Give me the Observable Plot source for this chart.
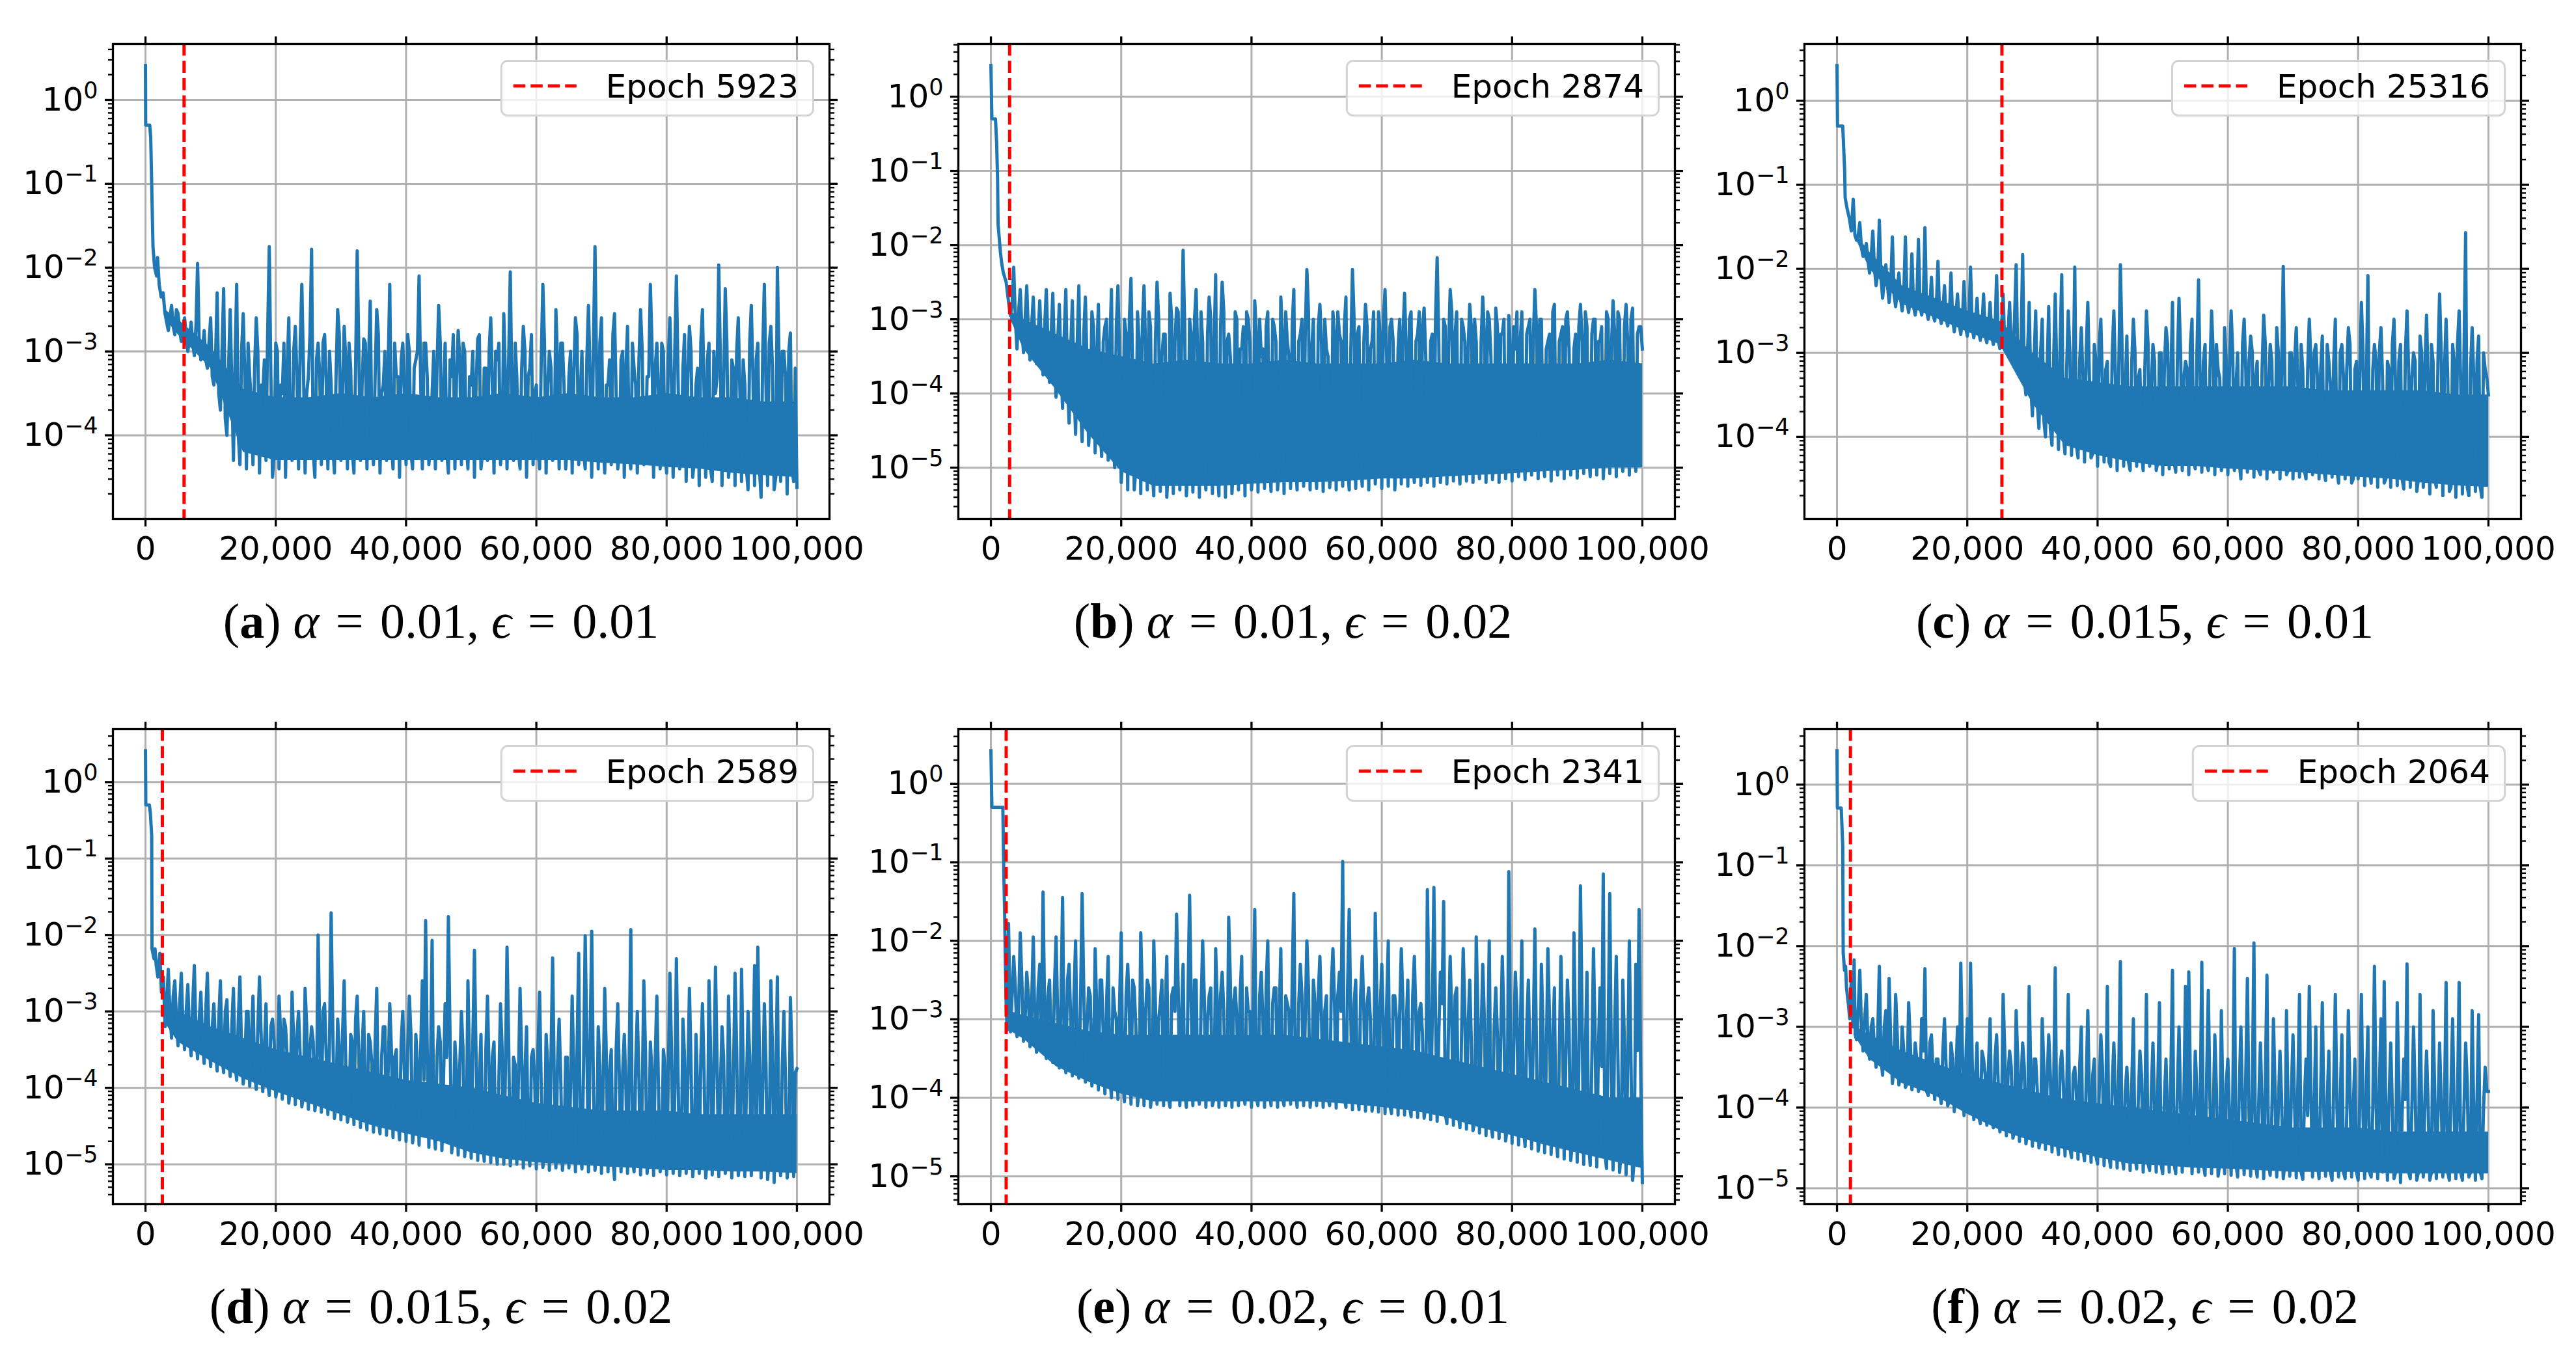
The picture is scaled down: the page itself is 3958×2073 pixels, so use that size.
<!DOCTYPE html>
<html><head><meta charset="utf-8">
<script src="https://cdn.jsdelivr.net/npm/d3@7"></script>
<script src="https://cdn.jsdelivr.net/npm/@observablehq/plot@0.6"></script>
<style>
html,body{margin:0;padding:0;background:#fff;}
#page{position:relative;width:3958px;height:2073px;overflow:hidden;background:#fff;}
#page > div.panel{position:absolute;}
</style></head><body><div id="page"></div>
<script>
// ---------------- data (loss values stored as log10) ----------------
const xTicks = [0, 20000, 40000, 60000, 80000, 100000];
const letters = ["a", "b", "c", "d", "e", "f"];
const alphas = ["0.01", "0.01", "0.015", "0.015", "0.02", "0.02"];
const epsilons = ["0.01", "0.02", "0.01", "0.02", "0.01", "0.02"];
const markerEpochs = [5923, 2874, 25316, 2589, 2341, 2064];
// body readings: every 500 epochs from 3000; mid readings: every 500 epochs from 3250
const bodyStart = 3000, midStart = 3250, step = 500;
// epochs at which the solid core of the noisy band is read (bottom / top)
const coreEpochs = [3000,5000,10000,15000,20000,25000,30000,35000,40000,45000,50000,55000,60000,65000,70000,75000,80000,85000,90000,95000,100000];

const headEpochsA = [0,30,650,800,950,1150,1400,1700,1850,2100,2400,2700];
const headLog10A = [0.41,-0.3,-0.3,-0.45,-1.0,-1.75,-2.0,-2.1,-1.88,-2.2,-2.35,-2.3];
const bodyLog10A = [
-2.55,-2.75,-2.45,-2.8,-2.55,-2.88,-2.6,-3.0,-2.65,-3.05,
-1.95,-3.1,-2.75,-3.2,-2.6,-3.4,-2.3,-3.7,-2.25,-4.0,
-2.5,-4.3,-2.2,-4.35,-2.55,-4.4,-3.3,-4.35,-2.6,-4.45,
-3.5,-4.3,-1.75,-4.5,-2.9,-4.4,-3.5,-4.5,-2.6,-4.3,
-2.7,-4.4,-2.2,-4.45,-3.3,-1.78,-4.5,-2.9,-4.35,-2.8,
-4.4,-3.4,-4.45,-2.5,-4.3,-2.7,-4.4,-3.2,-4.45,-1.8,
-4.3,-2.85,-4.4,-2.4,-4.35,-2.5,-4.45,-3.4,-4.3,-2.2,
-4.4,-3.3,-4.5,-2.9,-4.35,-3.0,-4.4,-3.1,-2.1,-4.4,
-2.9,-4.35,-3.5,-4.4,-2.45,-4.3,-2.9,-4.45,-3.3,-4.4,
-2.75,-4.35,-3.0,-4.4,-3.4,-4.5,-2.85,-4.4,-3.2,-4.3,
-2.6,-4.45,-3.1,-4.35,-2.55,-4.4,-2.05,-4.3,-3.3,-4.4,
-2.7,-4.5,-3.2,-4.35,-3.4,-4.4,-2.2,-4.45,-3.0,-4.3,
-2.5,-4.4,-2.9,-4.4,-3.3,-4.45,-2.6,-4.35,-3.0,-4.4,
-2.45,-4.5,-1.75,-4.4,-2.6,-4.45,-3.4,-4.35,-2.55,-4.4,
-3.1,-4.5,-2.7,-4.4,-3.2,-4.45,-2.5,-4.35,-3.3,-2.2,
-4.5,-2.9,-4.4,-3.0,-4.45,-2.6,-4.5,-2.1,-4.4,-3.2,
-4.55,-2.7,-4.5,-3.4,-4.6,-2.5,-4.5,-2.9,-4.55,-3.5,
-1.97,-4.6,-2.25,-4.5,-3.1,-4.6,-2.6,-4.55,-3.4,-4.65,
-2.45,-4.6,-2.9,-4.74,-2.2,-4.6,-2.7,-4.65,-2.0,-4.55,
-3.0,-4.7,-2.78,-4.55,-4.62];
const midLog10A = [
-2.65,-2.6,-2.7,-2.5,-2.75,-2.7,-2.8,-2.85,-2.9,-2.7,
-2.9,-3.0,-3.1,-2.9,-3.3,-3.1,-3.5,-3.0,-3.8,-3.2,
-3.4,-3.1,-4.0,-3.0,-3.3,-2.9,-3.6,-3.2,-3.0,-3.4,
-3.1,-2.8,-3.3,-4.2,-3.0,-3.4,-2.9,-3.2,-4.1,-3.0,
-3.3,-2.9,-3.2,-3.5,-2.8,-4.2,-3.1,-3.3,-2.9,-3.4,
-3.0,-4.1,-3.3,-2.8,-3.5,-3.1,-2.9,-4.2,-3.2,-3.0,
-3.4,-2.9,-3.1,-4.0,-3.3,-2.8,-3.5,-3.0,-3.2,-4.1,
-2.9,-3.3,-3.1,-3.5,-2.8,-4.2,-3.2,-3.0,-3.4,-2.9,
-3.3,-4.1,-3.0,-3.2,-2.9,-3.5,-4.2,-3.1,-2.8,-3.3,
-3.1,-2.9,-4.1,-3.3,-3.0,-3.4,-2.8,-4.2,-3.2,-3.0,
-3.4,-3.0,-2.9,-4.1,-3.3,-3.1,-3.5,-2.9,-4.2,-3.2,
-3.0,-3.3,-2.8,-3.5,-4.1,-3.1,-2.9,-3.4,-3.2,-4.2,
-3.1,-2.9,-3.4,-4.1,-3.0,-3.3,-2.8,-3.5,-4.2,-3.1,
-3.3,-3.0,-3.2,-2.9,-4.1,-3.4,-3.1,-2.8,-3.5,-4.2,
-3.0,-3.2,-4.2,-2.9,-3.4,-3.1,-3.0,-4.3,-3.3,-2.9,
-3.2,-3.5,-2.9,-4.2,-3.1,-3.4,-3.0,-3.3,-4.3,-2.8,
-3.3,-3.0,-4.3,-3.2,-2.9,-3.5,-3.1,-4.4,-3.0,-3.3,
-3.1,-3.4,-2.9,-4.3,-3.2,-3.0,-3.5,-3.1,-4.4,-2.9,
-3.3,-3.1,-4.4,-3.0,-3.4,-2.9,-3.2,-4.5,-3.1,-3.0,
-3.3,-3.0,-4.4,-3.2];
const coreBottomA = [-2.6,-2.8,-3.2,-4.2,-4.3,-4.3,-4.3,-4.3,-4.3,-4.3,-4.3,-4.3,-4.3,-4.3,-4.33,-4.35,-4.38,-4.4,-4.45,-4.48,-4.5];
const coreTopA = [-2.5,-2.62,-2.95,-3.45,-3.55,-3.55,-3.5,-3.55,-3.5,-3.55,-3.55,-3.5,-3.55,-3.5,-3.55,-3.55,-3.5,-3.55,-3.55,-3.6,-3.6];

const headEpochsB = [0,150,700,880,1020,1100,1460,1680,1900,2340,2700];
const headLog10B = [0.42,-0.3,-0.3,-0.63,-1.1,-1.72,-2.1,-2.26,-2.37,-2.5,-2.76];
const bodyLog10B = [
-2.95,-2.3,-3.4,-2.6,-3.45,-2.55,-3.55,-2.7,-3.6,-2.75,
-3.75,-2.6,-3.85,-2.65,-4.05,-2.8,-4.2,-2.6,-4.4,-2.75,
-4.55,-2.55,-4.65,-2.7,-4.7,-2.9,-4.8,-2.8,-4.85,-3.1,
-4.9,-2.6,-5.0,-2.55,-5.2,-3.0,-5.3,-2.45,-5.3,-2.9,
-5.35,-2.55,-5.3,-3.1,-5.38,-2.5,-5.32,-3.2,-5.4,-2.65,
-5.35,-2.85,-5.3,-2.07,-5.38,-3.0,-5.33,-2.6,-5.4,-3.3,
-5.3,-2.7,-5.35,-2.4,-5.38,-2.5,-5.4,-3.2,-5.35,-2.9,
-5.3,-3.4,-5.38,-3.0,-5.3,-2.75,-5.33,-3.5,-5.28,-2.9,
-5.32,-3.1,-5.3,-2.7,-5.35,-3.3,-5.28,-2.6,-5.3,-3.2,
-5.25,-2.33,-5.3,-3.0,-5.28,-2.8,-5.32,-3.4,-5.27,-2.9,
-5.3,-3.2,-5.25,-2.7,-5.3,-2.33,-5.28,-3.1,-5.25,-2.8,
-5.3,-3.3,-5.22,-2.9,-5.28,-2.6,-5.25,-3.0,-5.3,-3.4,
-5.22,-2.65,-5.25,-2.9,-5.2,-3.2,-5.24,-2.85,-5.2,-3.3,
-5.25,-2.17,-5.2,-3.0,-5.22,-2.6,-5.18,-2.9,-5.22,-3.1,
-5.18,-2.8,-5.2,-3.3,-5.15,-2.7,-5.2,-3.0,-5.16,-2.85,
-5.2,-3.2,-5.15,-2.95,-5.18,-3.4,-5.12,-2.9,-5.16,-3.1,
-5.1,-2.6,-5.15,-3.0,-5.12,-3.3,-5.18,-2.8,-5.1,-3.2,
-5.15,-2.9,-5.1,-3.4,-5.14,-2.8,-5.08,-3.1,-5.12,-3.0,
-5.1,-3.3,-5.15,-2.9,-5.08,-2.75,-5.12,-3.0,-5.05,-2.8,
-5.1,-2.85,-5.05,-3.1,-3.4];
const midLog10B = [
-2.8,-3.0,-2.9,-3.1,-3.0,-3.2,-3.1,-3.3,-3.2,-3.4,
-3.1,-3.3,-3.2,-3.5,-3.3,-3.6,-3.2,-3.8,-3.4,-3.9,
-3.3,-4.1,-3.2,-3.6,-4.3,-3.1,-3.5,-4.4,-3.3,-3.0,
-3.4,-4.6,-3.1,-3.5,-4.8,-3.2,-3.0,-3.6,-5.0,-3.3,
-3.1,-3.4,-2.9,-5.0,-3.3,-3.0,-3.5,-3.2,-4.9,-3.0,
-3.3,-2.9,-3.4,-3.1,-5.0,-3.2,-3.0,-3.5,-2.9,-4.9,
-3.2,-3.0,-3.4,-5.0,-3.1,-2.9,-3.3,-3.5,-4.9,-3.0,
-3.4,-3.1,-2.9,-3.3,-5.0,-3.2,-3.0,-3.4,-3.1,-4.9,
-3.0,-3.3,-5.0,-3.2,-2.9,-3.5,-3.1,-4.9,-3.3,-3.0,
-3.2,-2.9,-3.4,-4.9,-3.1,-3.3,-3.0,-3.5,-4.9,-3.2,
-2.9,-3.3,-3.1,-5.0,-3.4,-3.0,-3.2,-4.9,-3.3,-3.1,
-3.4,-2.9,-4.9,-3.2,-3.0,-3.5,-3.1,-3.3,-4.8,-3.0,
-3.2,-3.4,-3.0,-4.9,-3.3,-2.9,-3.1,-3.5,-4.8,-3.2,
-3.0,-3.3,-4.8,-3.1,-3.4,-2.9,-3.2,-4.9,-3.0,-3.3,
-3.4,-3.1,-3.0,-4.8,-3.3,-3.2,-2.9,-3.5,-4.8,-3.1,
-3.2,-3.0,-4.8,-3.4,-3.1,-2.9,-3.3,-4.7,-3.2,-3.0,
-3.3,-3.1,-3.0,-4.8,-3.4,-3.2,-2.9,-4.7,-3.3,-3.1,
-3.0,-3.4,-4.7,-3.2,-3.1,-3.3,-2.9,-4.8,-3.2,-3.0,
-3.3,-3.1,-4.7,-3.0,-3.4,-3.2,-2.9,-4.7,-3.1,-3.3,
-3.0,-4.7,-3.2,-3.1];
const coreBottomB = [-3.0,-3.4,-3.95,-4.55,-5.05,-5.25,-5.25,-5.25,-5.22,-5.2,-5.2,-5.18,-5.15,-5.15,-5.12,-5.1,-5.08,-5.05,-5.03,-5.0,-5.0];
const coreTopB = [-2.9,-3.0,-3.2,-3.4,-3.5,-3.6,-3.55,-3.6,-3.6,-3.55,-3.6,-3.6,-3.6,-3.55,-3.6,-3.6,-3.6,-3.6,-3.6,-3.55,-3.6];

const headEpochsC = [0,80,880,1170,1250,1540,1900,2200,2490,2750];
const headLog10C = [0.42,-0.3,-0.3,-0.82,-1.15,-1.28,-1.4,-1.55,-1.17,-1.6];
const bodyLog10C = [
-1.66,-1.45,-1.85,-1.7,-2.05,-1.55,-2.2,-1.42,-2.35,-1.95,
-2.4,-1.62,-2.45,-2.05,-2.5,-1.62,-2.52,-1.82,-2.55,-1.65,
-2.55,-1.51,-2.6,-2.1,-2.62,-1.91,-2.65,-2.2,-2.68,-2.05,
-2.75,-2.3,-2.78,-2.15,-2.8,-1.98,-2.82,-2.35,-2.85,-2.3,
-2.88,-2.4,-2.9,-2.08,-2.95,-2.3,-3.0,-2.4,-3.1,-1.95,
-3.2,-1.83,-3.5,-2.4,-3.75,-2.5,-3.9,-2.6,-4.0,-2.45,
-4.1,-2.3,-4.15,-2.07,-4.2,-2.5,-4.22,-1.98,-4.25,-2.7,
-4.3,-2.4,-4.25,-2.9,-4.35,-2.6,-4.3,-3.1,-4.35,-2.5,
-4.4,-1.95,-4.35,-2.8,-4.4,-2.6,-4.35,-3.2,-4.4,-2.5,
-4.35,-2.9,-4.4,-3.0,-4.45,-2.7,-4.38,-2.4,-4.42,-2.35,
-4.4,-3.1,-4.45,-2.6,-4.38,-2.13,-4.42,-2.9,-4.4,-2.5,
-4.45,-3.2,-4.4,-2.7,-4.45,-2.5,-4.4,-3.0,-4.5,-2.6,
-4.42,-2.8,-4.48,-3.1,-4.45,-2.55,-4.5,-2.9,-4.42,-2.7,
-4.5,-1.97,-4.45,-3.0,-4.5,-2.7,-4.48,-3.2,-4.5,-2.6,
-4.45,-2.9,-4.5,-2.8,-4.52,-3.1,-4.48,-2.6,-4.55,-2.9,
-4.5,-2.7,-4.55,-3.2,-4.5,-2.4,-4.58,-2.08,-4.55,-2.9,
-4.6,-2.7,-4.55,-3.1,-4.6,-2.6,-4.58,-2.9,-4.62,-2.5,
-4.6,-3.0,-4.65,-2.8,-4.6,-2.55,-4.68,-3.1,-4.6,-2.3,
-4.7,-2.6,-4.65,-2.9,-4.72,-2.5,-4.68,-1.57,-4.7,-2.7,
-4.65,-2.8,-4.72,-3.2,-3.5];
const midLog10C = [
-1.6,-1.75,-1.8,-1.9,-1.85,-2.0,-2.05,-2.1,-2.15,-2.2,
-2.2,-2.3,-2.25,-2.35,-2.3,-2.4,-2.35,-2.45,-2.4,-2.45,
-2.4,-2.5,-2.45,-2.55,-2.45,-2.55,-2.5,-2.6,-2.55,-2.6,
-2.55,-2.65,-2.6,-2.7,-2.6,-2.7,-2.65,-2.75,-2.7,-2.8,
-2.7,-2.8,-2.75,-2.85,-2.7,-2.9,-2.8,-2.95,-2.6,-3.1,
-2.9,-3.3,-3.0,-3.4,-3.1,-3.6,-3.0,-3.8,-3.2,-3.9,
-3.1,-3.3,-2.9,-4.0,-3.2,-3.0,-3.4,-4.1,-3.1,-3.3,
-3.0,-3.3,-4.2,-3.1,-2.9,-3.4,-3.2,-4.3,-3.0,-3.3,
-3.2,-2.9,-3.4,-4.3,-3.1,-3.0,-3.3,-4.2,-3.2,-2.9,
-3.4,-3.1,-4.3,-3.0,-3.2,-2.9,-3.3,-4.3,-3.1,-3.0,
-3.3,-3.2,-2.9,-4.3,-3.0,-3.4,-3.1,-4.3,-3.2,-3.0,
-2.9,-3.3,-4.3,-3.1,-3.2,-3.0,-3.4,-4.3,-2.9,-3.2,
-3.1,-3.0,-3.3,-4.4,-3.2,-2.9,-3.4,-3.1,-4.3,-3.0,
-3.2,-3.3,-4.4,-3.0,-3.1,-3.4,-2.9,-4.4,-3.2,-3.1,
-3.0,-3.3,-3.2,-4.4,-2.9,-3.4,-3.1,-4.4,-3.0,-3.3,
-3.2,-2.9,-4.5,-3.1,-3.3,-3.0,-3.4,-4.4,-3.2,-3.1,
-3.0,-3.3,-4.5,-3.2,-2.9,-3.4,-3.1,-4.5,-3.0,-3.2,
-3.3,-3.1,-4.5,-3.0,-3.2,-3.4,-2.9,-4.5,-3.1,-3.0,
-3.2,-3.3,-4.6,-3.1,-2.9,-3.4,-3.0,-4.6,-3.2,-3.3,
-3.1,-4.6,-3.0,-3.3];
const coreBottomC = [-1.66,-2.0,-2.42,-2.58,-2.75,-2.9,-3.6,-4.1,-4.22,-4.3,-4.35,-4.35,-4.38,-4.4,-4.42,-4.45,-4.48,-4.5,-4.55,-4.58,-4.6];
const coreTopC = [-1.6,-1.8,-2.2,-2.35,-2.5,-2.62,-3.0,-3.3,-3.35,-3.4,-3.4,-3.4,-3.4,-3.4,-3.4,-3.45,-3.45,-3.45,-3.45,-3.5,-3.5];

const headEpochsD = [0,50,600,750,950,1000,1300,1460,1650,1900,2200,2450,2750];
const headLog10D = [0.41,-0.3,-0.3,-0.41,-0.7,-2.18,-2.31,-2.18,-2.4,-2.55,-2.24,-2.75,-2.55];
const bodyLog10D = [
-3.2,-2.45,-3.35,-2.6,-3.45,-2.5,-3.5,-2.65,-3.58,-2.4,
-3.62,-2.75,-3.68,-2.5,-3.72,-2.9,-3.78,-2.6,-3.8,-2.85,
-3.85,-2.7,-3.9,-2.55,-3.95,-3.0,-3.98,-2.8,-4.02,-2.55,
-4.05,-2.9,-4.1,-3.1,-4.12,-2.8,-4.15,-3.2,-4.2,-2.75,
-4.22,-3.0,-4.25,-2.7,-4.28,-3.2,-4.3,-2.0,-4.32,-2.9,
-4.35,-1.71,-4.4,-3.1,-4.42,-2.6,-4.45,-3.3,-4.48,-2.8,
-4.52,-3.0,-4.55,-3.4,-4.58,-2.7,-4.6,-3.2,-4.62,-2.9,
-4.65,-3.5,-4.68,-3.0,-4.7,-2.8,-4.72,-3.3,-4.75,-2.6,
-1.81,-4.78,-2.07,-4.8,-3.2,-4.82,-2.9,-1.76,-4.85,-3.4,
-4.88,-3.0,-4.9,-2.6,-4.92,-2.2,-4.95,-3.3,-4.96,-2.8,
-4.98,-3.4,-5.0,-2.9,-5.0,-2.16,-5.02,-3.6,-5.0,-2.7,
-5.05,-3.2,-5.02,-3.5,-5.06,-2.75,-5.04,-3.3,-5.08,-2.3,
-5.05,-3.1,-5.08,-3.6,-5.05,-2.8,-5.1,-2.24,-5.06,-2.01,
-5.1,-1.95,-5.08,-3.2,-5.12,-2.7,-5.1,-3.5,-5.2,-2.9,
-5.1,-3.3,-5.12,-1.93,-5.1,-3.0,-5.14,-2.6,-5.12,-3.4,
-5.15,-2.8,-5.1,-3.5,-5.14,-2.5,-5.12,-2.31,-5.15,-3.1,
-5.12,-2.7,-5.16,-3.3,-5.12,-2.9,-5.18,-2.6,-5.14,-2.42,
-5.16,-3.2,-5.12,-2.8,-5.18,-2.5,-5.15,-2.45,-5.16,-3.0,
-5.15,-2.4,-2.16,-5.18,-2.9,-5.2,-2.6,-5.24,-2.55,-5.15,
-3.0,-5.18,-2.82,-5.16,-3.75];
const midLog10D = [
-2.9,-3.0,-2.8,-3.1,-2.9,-3.2,-3.0,-3.3,-2.9,-3.3,
-3.1,-3.4,-3.0,-3.4,-3.2,-3.5,-3.1,-3.6,-3.0,-3.6,
-3.2,-3.7,-3.1,-3.5,-3.7,-3.0,-3.4,-3.8,-3.2,-3.3,
-3.5,-3.9,-3.2,-3.4,-4.0,-3.3,-3.1,-3.6,-4.0,-3.4,
-3.3,-3.6,-4.1,-3.2,-3.5,-3.4,-4.1,-3.3,-3.0,-3.6,
-3.4,-3.2,-4.2,-3.5,-3.3,-3.7,-4.3,-3.4,-3.1,-3.6,
-3.5,-4.3,-3.3,-3.7,-3.4,-4.4,-3.6,-3.2,-3.8,-3.5,
-3.6,-4.4,-3.4,-3.8,-3.5,-3.3,-4.5,-3.7,-3.5,-3.9,
-3.5,-3.7,-4.5,-3.6,-3.4,-3.9,-3.6,-3.3,-4.6,-3.8,
-3.7,-3.5,-4.6,-3.8,-3.4,-3.6,-3.9,-4.7,-3.5,-3.8,
-3.6,-4.7,-3.9,-3.5,-3.8,-3.4,-4.7,-3.7,-3.9,-3.6,
-3.8,-4.8,-3.6,-3.9,-3.5,-4.0,-4.8,-3.7,-3.6,-3.9,
-3.7,-3.9,-4.8,-3.6,-4.0,-3.8,-3.5,-4.8,-3.7,-3.4,
-3.4,-3.9,-4.8,-3.7,-4.0,-3.6,-3.8,-4.9,-3.5,-3.9,
-3.8,-4.0,-3.6,-4.9,-3.7,-3.9,-4.1,-3.5,-4.9,-3.8,
-3.6,-4.0,-4.9,-3.7,-3.9,-3.5,-4.1,-3.8,-4.9,-3.6,
-3.9,-3.7,-4.9,-4.0,-3.6,-3.8,-4.9,-3.5,-3.9,-3.7,
-4.0,-3.6,-4.9,-3.8,-3.9,-3.5,-4.9,-3.7,-4.0,-3.6,
-3.8,-4.9,-3.6,-4.0,-3.7,-4.9,-3.5,-3.9,-4.9,-3.7,
-3.9,-4.9,-3.6,-3.8];
const coreBottomD = [-3.15,-3.4,-3.65,-3.88,-4.05,-4.2,-4.35,-4.5,-4.6,-4.7,-4.85,-4.93,-4.98,-5.0,-5.03,-5.05,-5.08,-5.08,-5.1,-5.1,-5.12];
const coreTopD = [-2.9,-3.0,-3.2,-3.35,-3.5,-3.6,-3.7,-3.8,-3.9,-3.95,-4.0,-4.1,-4.2,-4.25,-4.3,-4.3,-4.3,-4.35,-4.35,-4.35,-4.35];

const headEpochsE = [0,150,1830,1900,1980,2100,2200,2340,2490,2700];
const headLog10E = [0.42,-0.3,-0.3,-0.71,-1.16,-1.62,-2.19,-2.81,-3.14,-1.78];
const bodyLog10E = [
-3.16,-2.2,-3.22,-1.9,-3.28,-2.4,-3.35,-1.95,-3.42,-2.3,
-1.38,-3.5,-2.5,-3.55,-1.95,-3.62,-1.45,-3.68,-2.3,-3.72,
-2.0,-3.75,-1.4,-3.8,-2.6,-3.85,-2.1,-3.9,-2.5,-3.95,
-2.2,-4.0,-2.9,-4.02,-1.9,-4.05,-2.3,-4.08,-2.6,-4.1,
-1.9,-4.1,-2.5,-4.12,-2.0,-4.08,-2.8,-4.1,-2.2,-4.12,
-2.6,-1.66,-4.1,-2.3,-4.12,-1.42,-4.1,-2.5,-4.08,-2.0,
-4.12,-2.7,-4.1,-2.1,-4.12,-2.4,-4.1,-1.7,-4.12,-2.6,
-4.1,-2.2,-4.08,-2.9,-4.12,-1.6,-4.1,-2.4,-4.12,-2.0,
-4.1,-2.6,-4.12,-2.1,-4.1,-2.8,-4.08,-1.4,-4.12,-2.3,
-4.1,-2.0,-4.12,-2.5,-4.1,-2.2,-4.12,-2.7,-4.1,-2.1,
-4.13,-2.4,-0.99,-4.12,-1.6,-4.15,-2.5,-4.15,-2.2,-4.17,
-2.6,-4.17,-1.65,-4.18,-2.3,-4.2,-2.0,-4.2,-2.7,-4.22,
-2.1,-4.22,-2.5,-4.24,-2.2,-4.25,-2.8,-4.26,-1.35,-4.28,
-1.32,-4.3,-2.4,-1.5,-4.33,-2.2,-4.35,-2.6,-4.38,-2.1,
-4.4,-2.5,-4.42,-1.95,-4.45,-2.3,-4.48,-2.0,-4.5,-2.6,
-4.52,-2.2,-4.55,-1.12,-4.58,-2.4,-4.6,-2.0,-4.62,-2.5,
-4.65,-1.85,-4.68,-2.3,-4.7,-2.1,-4.72,-2.6,-4.75,-2.2,
-4.78,-2.5,-4.8,-1.9,-4.82,-1.3,-4.85,-2.4,-4.86,-2.1,
-4.88,-2.6,-1.15,-4.9,-1.4,-4.92,-2.2,-4.95,-2.5,-4.98,
-2.0,-5.05,-2.3,-1.6,-5.08];
const midLog10E = [
-2.7,-2.6,-2.9,-2.5,-3.0,-2.7,-2.8,-3.1,-2.6,-3.2,
-2.9,-2.7,-3.3,-2.6,-3.0,-2.8,-3.4,-2.5,-3.0,-2.7,
-3.5,-2.8,-2.6,-3.1,-2.7,-3.6,-2.9,-2.5,-3.2,-2.8,
-3.7,-2.6,-3.0,-2.8,-3.8,-2.7,-2.9,-2.5,-3.1,-3.9,
-2.7,-2.9,-2.6,-3.9,-2.8,-3.0,-2.5,-2.9,-4.0,-2.7,
-2.9,-2.6,-3.0,-3.9,-2.7,-2.8,-2.5,-3.9,-2.9,-2.7,
-3.0,-2.6,-4.0,-2.8,-2.7,-2.9,-3.9,-2.5,-2.8,-3.0,
-2.7,-3.9,-2.6,-2.9,-2.8,-4.0,-2.7,-3.0,-2.6,-3.9,
-2.8,-2.6,-3.0,-4.0,-2.7,-2.9,-2.5,-3.9,-2.8,-2.7,
-3.0,-2.6,-3.9,-2.8,-2.7,-3.0,-2.9,-4.0,-2.6,-2.8,
-2.7,-2.9,-4.0,-2.6,-3.0,-2.8,-3.9,-2.7,-2.9,-2.8,
-3.0,-4.0,-2.7,-2.9,-3.1,-2.8,-4.1,-2.7,-3.0,-2.9,
-2.8,-3.1,-4.1,-2.7,-3.0,-2.9,-3.2,-4.1,-2.8,-3.0,
-2.9,-3.2,-2.8,-4.2,-3.1,-3.0,-2.7,-4.2,-3.2,-2.9,
-3.1,-3.3,-4.3,-2.9,-3.2,-3.0,-3.4,-4.3,-3.1,-3.2,
-3.3,-3.0,-4.4,-3.2,-3.4,-2.9,-3.3,-4.4,-3.1,-3.5,
-3.2,-3.4,-4.5,-3.1,-3.5,-3.0,-3.3,-4.5,-3.4,-3.2,
-3.5,-3.1,-4.6,-3.3,-3.6,-3.0,-3.4,-4.6,-3.5,-3.2,
-3.4,-3.6,-4.7,-3.2,-3.7,-3.1,-3.5,-4.7,-3.3,-3.6,
-3.5,-4.8,-3.4,-3.7];
const coreBottomE = [-3.15,-3.25,-3.6,-3.8,-3.95,-4.05,-4.05,-4.05,-4.05,-4.05,-4.05,-4.08,-4.12,-4.17,-4.25,-4.38,-4.48,-4.6,-4.7,-4.8,-4.9];
const coreTopE = [-2.9,-2.95,-3.05,-3.15,-3.2,-3.2,-3.2,-3.2,-3.2,-3.2,-3.25,-3.3,-3.35,-3.4,-3.5,-3.6,-3.7,-3.8,-3.9,-4.0,-4.0];

const headEpochsF = [0,60,650,880,950,1150,1320,1460,1750,1950,2200,2450,2630,2800];
const headLog10F = [0.42,-0.29,-0.29,-0.76,-2.08,-2.3,-2.25,-2.52,-2.72,-2.9,-2.4,-3.0,-2.17,-3.1];
const bodyLog10F = [
-3.16,-2.3,-3.3,-2.6,-3.4,-2.9,-3.5,-2.25,-3.6,-2.8,
-2.4,-3.7,-2.6,-3.72,-3.0,-3.75,-2.7,-3.78,-3.2,-3.8,
-2.9,-2.28,-3.85,-3.1,-3.9,-3.4,-3.95,-2.9,-3.98,-3.2,
-4.05,-3.0,-2.21,-4.1,-2.9,-2.21,-4.15,-3.2,-4.2,-3.4,
-4.22,-2.9,-4.25,-3.1,-4.3,-2.6,-4.35,-3.3,-4.38,-2.8,
-4.42,-3.2,-4.45,-2.5,-4.48,-3.4,-4.5,-2.9,-4.52,-3.1,
-4.55,-2.27,-4.58,-3.3,-4.6,-2.6,-4.62,-3.5,-4.64,-3.0,
-4.66,-2.8,-4.68,-3.4,-4.7,-3.1,-4.72,-2.5,-4.74,-3.2,
-4.75,-2.19,-4.76,-3.5,-4.78,-2.9,-4.76,-3.3,-4.8,-2.6,
-4.78,-3.2,-4.8,-2.7,-4.82,-3.4,-4.8,-2.3,-4.82,-3.0,
-4.8,-2.5,-2.32,-4.82,-3.3,-4.8,-2.2,-4.84,-2.55,-4.82,
-3.1,-4.85,-2.8,-4.82,-3.4,-4.84,-2.03,-4.86,-3.0,-4.83,
-2.4,-4.85,-1.96,-4.86,-3.2,-4.88,-2.36,-4.84,-2.9,-4.86,
-3.3,-4.88,-2.8,-4.85,-3.1,-4.87,-2.6,-4.89,-3.4,-2.5,
-4.86,-3.0,-4.88,-2.7,-4.85,-3.3,-4.9,-2.6,-4.86,-3.1,
-4.88,-2.8,-4.86,-3.4,-4.9,-2.6,-4.88,-3.0,-4.86,-2.25,
-4.88,-2.9,-2.44,-4.9,-3.2,-4.88,-2.7,-4.93,-3.4,-2.22,
-4.88,-3.0,-4.9,-2.6,-4.86,-3.3,-4.9,-2.8,-4.88,-3.2,
-4.86,-2.45,-4.9,-2.9,-4.88,-2.45,-4.9,-3.2,-4.86,-2.8,
-4.9,-2.85,-4.88,-3.5,-3.8];
const midLog10F = [
-2.8,-3.0,-2.9,-3.2,-3.0,-3.3,-3.1,-3.4,-3.0,-3.5,
-3.2,-3.5,-3.1,-3.6,-3.3,-3.7,-3.2,-3.6,-3.4,-3.7,
-3.3,-3.8,-3.2,-3.6,-3.4,-3.8,-3.3,-3.5,-3.9,-3.4,
-3.6,-3.9,-3.3,-3.5,-4.0,-3.4,-3.7,-4.1,-3.3,-3.6,
-3.5,-4.1,-3.4,-3.7,-4.2,-3.3,-3.6,-3.5,-4.3,-3.4,
-3.7,-3.5,-4.3,-3.6,-3.4,-3.8,-4.4,-3.5,-3.7,-3.6,
-3.8,-4.4,-3.5,-3.7,-3.9,-4.5,-3.6,-3.8,-3.5,-4.5,
-3.7,-3.9,-3.6,-4.6,-3.8,-3.5,-4.0,-4.6,-3.7,-3.9,
-3.6,-4.6,-3.8,-4.0,-3.7,-4.6,-3.9,-3.6,-4.1,-4.7,
-3.8,-4.0,-3.7,-4.7,-3.9,-4.1,-3.6,-4.7,-3.8,-4.0,
-3.9,-4.7,-3.7,-4.1,-3.8,-4.0,-4.7,-3.6,-3.9,-4.1,
-3.8,-4.7,-4.0,-3.7,-4.1,-3.9,-4.7,-3.8,-4.0,-3.6,
-4.1,-3.8,-4.7,-3.9,-4.0,-3.7,-4.7,-4.1,-3.8,-4.0,
-3.9,-4.7,-4.1,-3.8,-4.0,-3.7,-4.8,-3.9,-4.1,-3.8,
-4.0,-4.7,-3.8,-4.1,-3.9,-4.8,-3.7,-4.0,-3.9,-4.8,
-4.1,-3.8,-4.0,-4.8,-3.9,-4.1,-3.7,-4.8,-4.0,-3.9,
-3.8,-4.8,-4.1,-3.9,-4.0,-4.8,-3.7,-4.1,-3.9,-4.8,
-4.0,-3.8,-4.8,-4.1,-3.9,-4.0,-4.8,-3.8,-4.1,-3.9,
-4.0,-4.8,-3.8,-4.1,-3.9,-4.8,-4.0,-3.7,-4.8,-4.1,
-3.9,-4.8,-4.0,-3.8];
const coreBottomF = [-3.15,-3.4,-3.7,-3.85,-4.08,-4.28,-4.42,-4.52,-4.62,-4.7,-4.72,-4.75,-4.76,-4.78,-4.8,-4.8,-4.8,-4.82,-4.82,-4.82,-4.82];
const coreTopF = [-3.0,-3.1,-3.3,-3.45,-3.6,-3.7,-3.8,-3.9,-3.95,-4.0,-4.05,-4.1,-4.15,-4.2,-4.25,-4.25,-4.25,-4.3,-4.3,-4.3,-4.3];

const headEpochs = [headEpochsA, headEpochsB, headEpochsC, headEpochsD, headEpochsE, headEpochsF];
const headLog10 = [headLog10A, headLog10B, headLog10C, headLog10D, headLog10E, headLog10F];
const bodyLog10 = [bodyLog10A, bodyLog10B, bodyLog10C, bodyLog10D, bodyLog10E, bodyLog10F];
const midLog10 = [midLog10A, midLog10B, midLog10C, midLog10D, midLog10E, midLog10F];
const coreBottom = [coreBottomA, coreBottomB, coreBottomC, coreBottomD, coreBottomE, coreBottomF];
const coreTop = [coreTopA, coreTopB, coreTopC, coreTopD, coreTopE, coreTopF];

// ---------------- layout ----------------
const frameLefts = [173, 1472, 2772], frameTops = [67, 1120];
const FW = 1101, FH = 730;
const ML = 173, MR = 40, MT = 40, MB = 110;
const captionOffsets = [-46, -36, -27], captionBaselines = [980, 2033];
const BLUE = "#1f77b4", RED = "#ff0000", GRID = "#b0b0b0";

const page = document.getElementById("page");
const fmtPow = d => "10" + String(Math.round(Math.log10(d))).replace("-", "\u2212");

for (let i = 0; i < 6; i++) {
  const col = i % 3, row = Math.floor(i / 3);
  const pts = [];
  headEpochs[i].forEach((e, j) => pts.push({epoch: e, lg: headLog10[i][j]}));
  bodyLog10[i].forEach((v, j) => pts.push({epoch: bodyStart + j * step, lg: v}));
  midLog10[i].forEach((v, j) => pts.push({epoch: midStart + j * step, lg: v}));
  pts.sort((a, b) => a.epoch - b.epoch);
  const data = pts.filter(d => d.epoch <= 100000).map(d => ({epoch: d.epoch, loss: Math.pow(10, d.lg)}));
  const core = coreEpochs.map((e, j) => ({epoch: e, lo: Math.pow(10, coreBottom[i][j]), hi: Math.pow(10, coreTop[i][j])}));
  const logs = data.map(d => Math.log10(d.loss));
  const lo = d3.min(logs), hi = d3.max(logs), pad = 0.05 * (hi - lo);
  const dom = [Math.pow(10, lo - pad), Math.pow(10, hi + pad)];
  const majors = d3.range(Math.ceil(lo - pad), Math.floor(hi + pad) + 1).map(k => Math.pow(10, k));
  const minors = [];
  for (let k = Math.floor(lo - pad); k <= Math.ceil(hi + pad); k++)
    for (let j = 2; j <= 9; j++) { const v = j * Math.pow(10, k); if (v >= dom[0] && v <= dom[1]) minors.push(v); }

  const chart = Plot.plot({
    width: ML + FW + MR, height: MT + FH + MB,
    marginLeft: ML, marginRight: MR, marginTop: MT, marginBottom: MB,
    x: {domain: [-5000, 105000]},
    y: {type: "log", domain: dom},
    style: {fontFamily: "'DejaVu Sans'", fontSize: "50px", background: "transparent", overflow: "visible", maxWidth: "none", color: "black"},
    marks: [
      Plot.gridX(xTicks, {stroke: GRID, strokeOpacity: 1, strokeWidth: 3}),
      Plot.gridY(majors, {stroke: GRID, strokeOpacity: 1, strokeWidth: 3}),
      Plot.areaY(core, {x: "epoch", y1: "lo", y2: "hi", fill: BLUE, fillOpacity: 1}),
      Plot.line(data, {x: "epoch", y: "loss", stroke: BLUE, strokeWidth: 5, strokeLinejoin: "round", strokeLinecap: "square"}),
      Plot.ruleX([markerEpochs[i]], {stroke: RED, strokeWidth: 5, strokeDasharray: "18.5,8"}),
      Plot.frame({stroke: "black", strokeWidth: 3.3}),
      Plot.axisX({ticks: xTicks, tickFormat: d3.format(","), tickSize: 12, tickPadding: 15, strokeWidth: 3.3, label: null, fontSize: 50}),
      Plot.axisX({anchor: "top", ticks: xTicks, tickFormat: () => "", tickSize: 12, strokeWidth: 3.3, label: null}),
      Plot.axisY({ticks: majors, tickFormat: fmtPow, tickSize: 12, tickPadding: 11, strokeWidth: 3.3, label: null, fontSize: 50}),
      Plot.axisY({ticks: minors, tickFormat: () => "", tickSize: 7, strokeWidth: 2.4, label: null}),
      Plot.axisY({anchor: "right", ticks: majors, tickFormat: () => "", tickSize: 12, strokeWidth: 3.3, label: null}),
      Plot.axisY({anchor: "right", ticks: minors, tickFormat: () => "", tickSize: 7, strokeWidth: 2.4, label: null})
    ]
  });
  // superscript exponents on y tick labels
  d3.select(chart).selectAll("text").each(function () {
    const t = this.textContent;
    if (/^10[\u22120-9]+$/.test(t)) {
      const sel = d3.select(this);
      sel.text("10");
      sel.append("tspan").attr("dy", -19).attr("font-size", 35).text(t.slice(2));
    }
  });
  const wrap = document.createElement("div");
  wrap.className = "panel";
  wrap.style.left = (frameLefts[col] - ML) + "px";
  wrap.style.top = (frameTops[row] - MT) + "px";
  wrap.appendChild(chart);
  page.appendChild(wrap);
}

// ---------------- overlay: legends and captions ----------------
const ov = d3.select(page).append("svg")
  .attr("width", 3958).attr("height", 2073)
  .style("position", "absolute").style("left", "0px").style("top", "0px");

for (let i = 0; i < 6; i++) {
  const col = i % 3, row = Math.floor(i / 3);
  const fl = frameLefts[col], ft = frameTops[row];
  const g = ov.append("g");
  const rect = g.append("rect").attr("x", 1.5).attr("y", 1.5).attr("height", 84).attr("rx", 10)
    .attr("fill", "white").attr("fill-opacity", 0.8).attr("stroke", "#d4d4d4").attr("stroke-width", 3);
  g.append("line").attr("x1", 20).attr("x2", 117).attr("y1", 40).attr("y2", 40)
    .attr("stroke", RED).attr("stroke-width", 5).attr("stroke-dasharray", "18.5,8");
  const txt = g.append("text").attr("x", 162).attr("y", 58)
    .attr("font-family", "'DejaVu Sans'").attr("font-size", 50).attr("fill", "black")
    .text("Epoch " + markerEpochs[i]);
  const tw = txt.node().getComputedTextLength();
  const W = 162 + tw + 24;
  rect.attr("width", W - 3);
  g.attr("transform", `translate(${fl + FW - 23 - W},${ft + 25})`);

  // caption
  const cap = ov.append("text")
    .attr("x", fl + FW / 2 + captionOffsets[col]).attr("y", captionBaselines[row])
    .attr("text-anchor", "middle")
    .attr("font-family", "'Liberation Serif', 'DejaVu Serif', serif").attr("font-size", 76)
    .attr("fill", "black").style("white-space", "pre");
  const sp = "\u2004";
  cap.append("tspan").text("(");
  cap.append("tspan").attr("font-weight", "bold").text(letters[i]);
  cap.append("tspan").text(") ");
  cap.append("tspan").attr("font-style", "italic").text("\u03B1");
  cap.append("tspan").text(sp + "=" + sp + alphas[i] + ", ");
  cap.append("tspan").attr("font-style", "italic").text("\u03F5");
  cap.append("tspan").text(sp + "=" + sp + epsilons[i]);
}
</script></body></html>
